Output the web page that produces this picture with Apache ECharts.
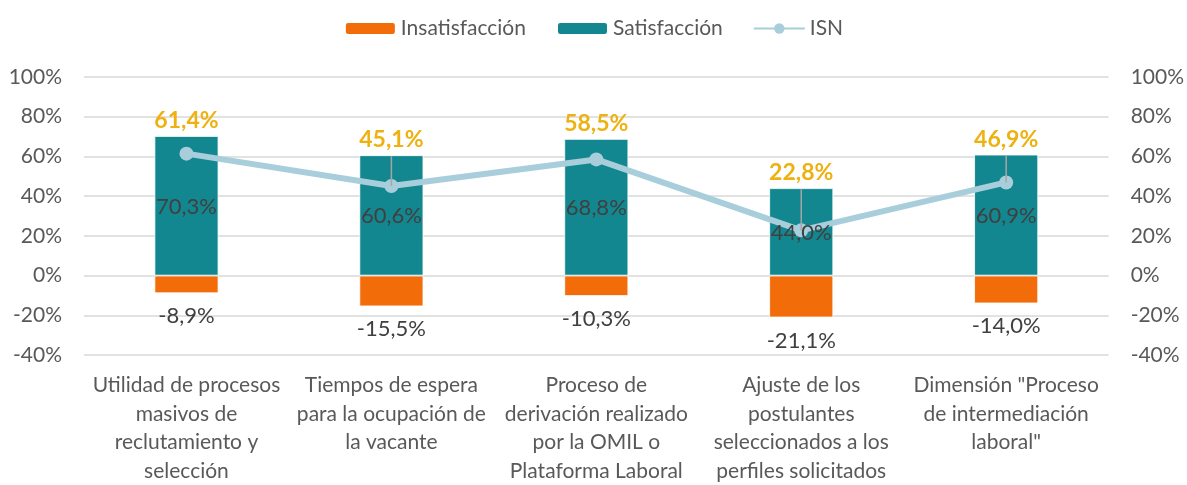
<!DOCTYPE html>
<html>
<head>
<meta charset="utf-8">
<script src="https://cdn.jsdelivr.net/npm/echarts@6/dist/echarts.min.js"></script>
<style>
  html, body { margin: 0; padding: 0; background: #fff; }
  #chart { width: 1187px; height: 485px; }
</style>
</head>
<body>
<div id="chart"></div>
<script>
// Categories (line breaks as shown under the axis)
const categories = [
  'Utilidad de procesos\nmasivos de\nreclutamiento y\nselección',
  'Tiempos de espera\npara la ocupación de\nla vacante',
  'Proceso de\nderivación realizado\npor la OMIL o\nPlataforma Laboral',
  'Ajuste de los\npostulantes\nseleccionados a los\nperfiles solicitados',
  'Dimensión "Proceso\nde intermediación\nlaboral"'
];
const insatisfaccion = [-8.9, -15.5, -10.3, -21.1, -14.0];
const satisfaccion = [70.3, 60.6, 68.8, 44.0, 60.9];
const isn = [61.4, 45.1, 58.5, 22.8, 46.9];
const yTicks = { min: -40, max: 100, interval: 20 };

const FONT = 'Lato, "Open Sans", sans-serif';
const pct = v => v.toFixed(1).replace('.', ',') + '%';

const chart = echarts.init(document.getElementById('chart'));

const valueAxis = pos => ({
  type: 'value',
  position: pos,
  min: yTicks.min, max: yTicks.max, interval: yTicks.interval,
  axisLine: { show: false },
  axisTick: { show: false },
  splitLine: { show: pos === 'left', lineStyle: { color: '#D9D9D9', width: 1.5 } },
  axisLabel: {
    formatter: v => v + '%',
    color: '#595959', fontFamily: FONT, fontSize: 21, margin: 22
  }
});

chart.setOption({
  animation: false,
  textStyle: { fontFamily: FONT },
  legend: {
    top: 13, left: 'center',
    itemWidth: 51, itemHeight: 13, itemGap: 30,
    textStyle: { color: '#595959', fontSize: 21, fontFamily: FONT },
    data: ['Insatisfacción', 'Satisfacción', 'ISN']
  },
  grid: { left: 84, right: 77, top: 77, bottom: 128, containLabel: false },
  xAxis: {
    type: 'category',
    data: categories,
    axisLine: { show: false },
    axisTick: { show: false },
    axisLabel: {
      interval: 0, color: '#595959', fontFamily: FONT, fontSize: 21,
      lineHeight: 28.5, margin: 16
    }
  },
  yAxis: [valueAxis('left'), valueAxis('right')],
  series: [
    {
      name: 'Insatisfacción', type: 'bar', data: insatisfaccion,
      barWidth: 64, barGap: '-100%',
      itemStyle: { color: '#F26C09', borderColor: '#fff', borderWidth: 0.8 },
      label: {
        show: true, position: 'bottom', distance: 12,
        formatter: p => pct(p.value),
        color: '#404040', fontSize: 22, fontFamily: FONT
      }
    },
    {
      name: 'Satisfacción', type: 'bar', data: satisfaccion,
      barWidth: 64,
      itemStyle: { color: '#128790', borderColor: '#fff', borderWidth: 0.8 }
    },
    {
      name: 'ISN', type: 'line', yAxisIndex: 1, data: isn,
      symbol: 'circle', symbolSize: 14,
      lineStyle: { color: '#A9CEDB', width: 6 },
      itemStyle: { color: '#A9CEDB' },
      z: 3
    },
    {
      // Value labels drawn above the line: satisfaction in the bar middle,
      // ISN above each bar with a leader down to its point
      name: 'Etiquetas', type: 'custom', yAxisIndex: 0,
      data: isn.map((v, i) => [i, satisfaccion[i], v]),
      z: 5,
      renderItem: (params, api) => {
        const i = api.value(0);
        const sat = api.value(1);
        const top = api.coord([i, sat]);
        const mid = api.coord([i, sat / 2]);
        const pt = api.coord([i, api.value(2)]);
        const children = [];
        if (pt[1] - top[1] > 25) {
          children.push({
            type: 'line',
            shape: { x1: top[0], y1: top[1] + 1, x2: pt[0], y2: pt[1] },
            style: { stroke: '#A6A6A6', lineWidth: 1.5 }
          });
        }
        children.push({
          type: 'text',
          style: {
            x: mid[0], y: mid[1] + 1,
            text: pct(sat),
            align: 'center', verticalAlign: 'middle',
            fill: '#404040', font: '22px ' + FONT
          }
        });
        children.push({
          type: 'text',
          style: {
            x: top[0], y: top[1] - 4,
            text: pct(api.value(2)),
            align: 'center', verticalAlign: 'bottom',
            fill: '#EDB110', font: 'bold 23px ' + FONT
          }
        });
        return { type: 'group', children };
      }
    }
  ]
});
</script>
</body>
</html>
